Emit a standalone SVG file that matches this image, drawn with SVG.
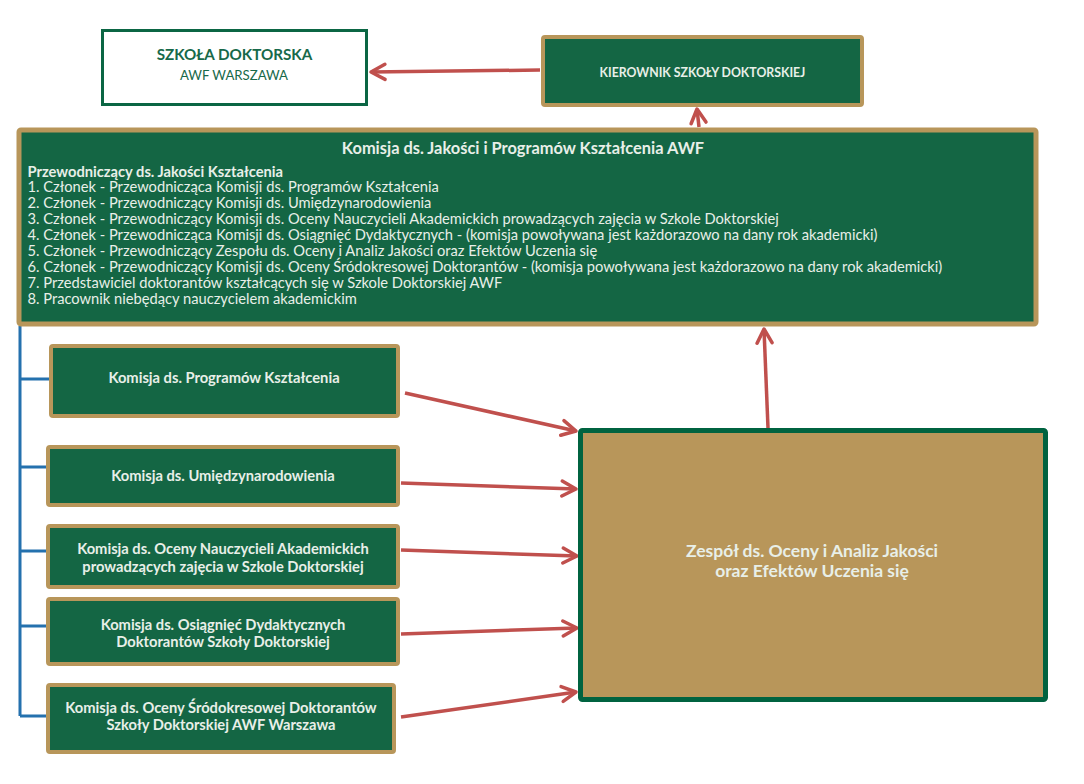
<svg xmlns="http://www.w3.org/2000/svg" width="1084" height="784" viewBox="0 0 1084 784">
<defs>
<style>
.gbox{fill:#146644;stroke:#B8965A;stroke-width:4}
.t{font-family:Lato,"Open Sans","DejaVu Sans",sans-serif;fill:#E8EFE8}
.b{font-weight:bold}
.c{text-anchor:middle}
.arr{stroke:#C0504D;stroke-width:3.5;fill:none;marker-end:url(#ah)}
.blue{stroke:#2471AE;stroke-width:3;fill:none}
</style>
<marker id="ah" markerUnits="userSpaceOnUse" markerWidth="22" markerHeight="22" viewBox="0 0 22 22" refX="19" refY="11" orient="auto">
<path d="M5,3.5 L19,11 L5,18.5" fill="none" stroke="#C0504D" stroke-width="3.5" stroke-linecap="round" stroke-linejoin="round"/>
</marker>
</defs>
<rect width="1084" height="784" fill="#FFFFFF"/>

<g id="connectors">
<path class="blue" d="M20,326 V716 M20,379 H49 M20,467 H46 M20,551 H46 M20,626 H46 M20,716 H46"/>
<line class="arr" x1="540" y1="70" x2="371" y2="72"/>
<line class="arr" x1="699" y1="127" x2="697" y2="109"/>
<line class="arr" x1="768" y1="428" x2="764" y2="329"/>
<line class="arr" x1="405" y1="393" x2="576" y2="431"/>
<line class="arr" x1="401" y1="483" x2="576" y2="489"/>
<line class="arr" x1="401" y1="550" x2="577" y2="556"/>
<line class="arr" x1="401" y1="634" x2="577" y2="628"/>
<line class="arr" x1="401" y1="717" x2="576" y2="692"/>
</g>

<g id="szkola">
<rect x="102.5" y="30.5" width="264" height="74" fill="#FFFFFF" stroke="#0B6644" stroke-width="3"/>
<text class="t b c" x="234.5" y="59.5" font-size="15.2" style="fill:#17694A">SZKOŁA DOKTORSKA</text>
<text class="t c" x="234" y="79.5" font-size="13.2" style="fill:#17694A">AWF WARSZAWA</text>
</g>

<g id="kierownik">
<rect class="gbox" x="543" y="37" width="319" height="68" rx="2"/>
<text class="t b c" x="702.5" y="76.5" font-size="12.3">KIEROWNIK SZKOŁY DOKTORSKIEJ</text>
</g>

<g id="komisja-jakosci">
<rect class="gbox" x="19" y="130" width="1017" height="194" rx="2" style="stroke-width:5"/>
<text class="t b c" x="523" y="153.5" font-size="16.4">Komisja ds. Jakości i Programów Kształcenia AWF</text>
<text class="t" x="27.5" font-size="14.7">
<tspan x="27.5" y="176.5" font-weight="bold">Przewodniczący ds. Jakości Kształcenia</tspan>
<tspan x="27.5" y="192.4">1. Członek - Przewodnicząca Komisji ds. Programów Kształcenia</tspan>
<tspan x="27.5" y="208.3">2. Członek - Przewodniczący Komisji ds. Umiędzynarodowienia</tspan>
<tspan x="27.5" y="224.2">3. Członek - Przewodniczący Komisji ds. Oceny Nauczycieli Akademickich prowadzących zajęcia w Szkole Doktorskiej</tspan>
<tspan x="27.5" y="240.1">4. Członek - Przewodnicząca Komisji ds. Osiągnięć Dydaktycznych - (komisja powoływana jest każdorazowo na dany rok akademicki)</tspan>
<tspan x="27.5" y="256">5. Członek - Przewodniczący Zespołu ds. Oceny i Analiz Jakości oraz Efektów Uczenia się</tspan>
<tspan x="27.5" y="271.9">6. Członek - Przewodniczący Komisji ds. Oceny Śródokresowej Doktorantów - (komisja powoływana jest każdorazowo na dany rok akademicki)</tspan>
<tspan x="27.5" y="287.8">7. Przedstawiciel doktorantów kształcących się w Szkole Doktorskiej AWF</tspan>
<tspan x="27.5" y="303.7">8. Pracownik niebędący nauczycielem akademickim</tspan>
</text>
</g>

<g id="k-programow">
<rect class="gbox" x="51" y="346" width="347" height="70" rx="2"/>
<text class="t b c" x="224" y="383" font-size="14.7">Komisja ds. Programów Kształcenia</text>
</g>

<g id="k-umiedzynarodowienia">
<rect class="gbox" x="48" y="447" width="350" height="58" rx="2"/>
<text class="t b c" x="223" y="480.5" font-size="14.7">Komisja ds. Umiędzynarodowienia</text>
</g>

<g id="k-oceny-nauczycieli">
<rect class="gbox" x="48" y="526" width="350" height="61" rx="2"/>
<text class="t b c" x="223" y="554" font-size="14.7">Komisja ds. Oceny Nauczycieli Akademickich</text>
<text class="t b c" x="223" y="571.5" font-size="14.7">prowadzących zajęcia w Szkole Doktorskiej</text>
</g>

<g id="k-osiagniec">
<rect class="gbox" x="48" y="599" width="350" height="65" rx="2"/>
<text class="t b c" x="223" y="630" font-size="14.7">Komisja ds. Osiągnięć Dydaktycznych</text>
<text class="t b c" x="223" y="647" font-size="14.7">Doktorantów Szkoły Doktorskiej</text>
</g>

<g id="k-srodokresowej">
<rect class="gbox" x="48" y="685" width="346" height="67" rx="2"/>
<text class="t b c" x="221" y="712.5" font-size="14.7">Komisja ds. Oceny Śródokresowej Doktorantów</text>
<text class="t b c" x="221" y="729.5" font-size="14.7">Szkoły Doktorskiej AWF Warszawa</text>
</g>

<g id="zespol">
<rect x="580.5" y="430.5" width="465" height="269" rx="2" fill="#B8965A" stroke="#006340" stroke-width="5"/>
<text class="t b c" x="812" y="557.3" font-size="17.5">Zespół ds. Oceny i Analiz Jakości</text>
<text class="t b c" x="812" y="577" font-size="17.5">oraz Efektów Uczenia się</text>
</g>
</svg>
